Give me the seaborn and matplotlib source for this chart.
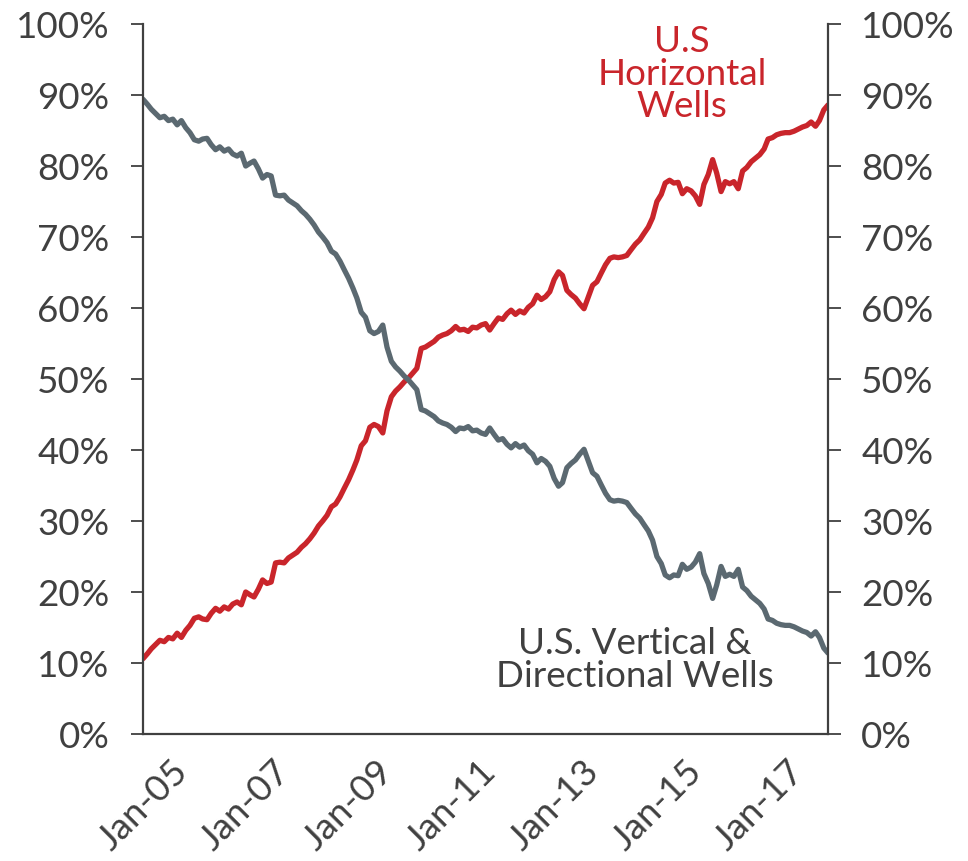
import matplotlib
matplotlib.use("Agg")
import matplotlib.pyplot as plt
import matplotlib.dates as mdates
from matplotlib.ticker import FuncFormatter, MultipleLocator
import numpy as np
import pandas as pd
import seaborn as sns

# Monthly readings, Jan 2005 .. May 2018 (percent of US rig count)
start_month = "2005-01-01"
n_months = 161

horizontal = [
    10.6, 11.3, 12.0, 12.6, 13.2, 13.0, 13.6, 13.4, 14.2, 13.6, 14.6, 15.3,
    16.3, 16.5, 16.2, 16.1, 17.0, 17.7, 17.3, 17.9, 17.6, 18.3, 18.6, 18.2,
    20.0, 19.6, 19.3, 20.4, 21.7, 21.2, 21.4, 24.1, 24.2, 24.1, 24.8, 25.2,
    25.6, 26.3, 26.8, 27.5, 28.3, 29.3, 30.0, 30.8, 32.0, 32.4, 33.4, 34.6,
    35.8, 37.2, 38.6, 40.6, 41.3, 43.2, 43.6, 43.3, 42.4, 45.5, 47.5, 48.3,
    48.9, 49.6, 50.1, 50.8, 51.5, 54.3, 54.5, 54.9, 55.3, 55.9, 56.2, 56.4,
    56.8, 57.4, 56.9, 57.0, 56.7, 57.3, 57.2, 57.6, 57.8, 56.9, 57.8, 58.6,
    58.4, 59.2, 59.7, 59.1, 59.6, 59.3, 60.1, 60.6, 61.8, 61.2, 61.6, 62.3,
    64.0, 65.1, 64.6, 62.5, 61.9, 61.4, 60.6, 59.9, 61.6, 63.2, 63.7, 64.9,
    66.1, 67.0, 67.2, 67.1, 67.2, 67.4, 68.2, 69.0, 69.6, 70.5, 71.4, 72.7,
    75.0, 76.0, 77.6, 78.0, 77.6, 77.7, 76.1, 76.8, 76.5, 75.8, 74.6, 77.4,
    78.8, 80.9, 79.0, 76.4, 77.8, 77.5, 77.8, 76.8, 79.3, 79.8, 80.6, 81.1,
    81.6, 82.4, 83.8, 84.0, 84.4, 84.6, 84.7, 84.7, 84.9, 85.2, 85.5, 85.7,
    86.2, 85.6, 86.4, 87.9, 88.6,
]

vertical = [
    89.4, 88.7, 88.0, 87.4, 86.8, 87.0, 86.4, 86.6, 85.8, 86.4, 85.4, 84.7,
    83.7, 83.5, 83.8, 83.9, 83.0, 82.3, 82.7, 82.1, 82.4, 81.7, 81.4, 81.8,
    80.0, 80.4, 80.7, 79.6, 78.3, 78.8, 78.6, 75.9, 75.8, 75.9, 75.2, 74.8,
    74.4, 73.7, 73.2, 72.5, 71.7, 70.7, 70.0, 69.2, 68.0, 67.6, 66.6, 65.4,
    64.2, 62.8, 61.4, 59.4, 58.7, 56.8, 56.4, 56.7, 57.6, 54.5, 52.5, 51.7,
    51.1, 50.4, 49.9, 49.2, 48.5, 45.7, 45.5, 45.1, 44.7, 44.1, 43.8, 43.6,
    43.2, 42.6, 43.1, 43.0, 43.3, 42.7, 42.8, 42.4, 42.2, 43.1, 42.2, 41.4,
    41.6, 40.8, 40.3, 40.9, 40.4, 40.7, 39.9, 39.4, 38.2, 38.8, 38.4, 37.7,
    36.0, 34.9, 35.4, 37.5, 38.1, 38.6, 39.4, 40.1, 38.4, 36.8, 36.3, 35.1,
    33.9, 33.0, 32.8, 32.9, 32.8, 32.6, 31.8, 31.0, 30.4, 29.5, 28.6, 27.3,
    25.0, 24.0, 22.4, 22.0, 22.4, 22.3, 23.9, 23.2, 23.5, 24.2, 25.4, 22.6,
    21.2, 19.1, 21.0, 23.6, 22.2, 22.5, 22.2, 23.2, 20.7, 20.2, 19.4, 18.9,
    18.4, 17.6, 16.2, 16.0, 15.6, 15.4, 15.3, 15.3, 15.1, 14.8, 14.5, 14.3,
    13.8, 14.4, 13.6, 12.1, 11.4,
]

series_names = ["U.S\nHorizontal\nWells", "U.S. Vertical &\nDirectional Wells"]
tick_years = [2005, 2007, 2009, 2011, 2013, 2015, 2017]

RED = "#C9252B"
GRAY = "#5B6971"
TEXT = "#404040"

dates = pd.date_range(start_month, periods=n_months, freq="MS")
df = pd.DataFrame({
    "date": np.concatenate([dates, dates]),
    "value": horizontal + vertical,
    "series": ["horizontal"] * n_months + ["vertical"] * n_months,
})

sns.set_style("white")
plt.rcParams["font.family"] = ["Lato", "DejaVu Sans"]

fig = plt.figure(figsize=(9.68, 8.61), dpi=100)
ax = fig.add_axes([0.1477, 0.1475, 0.8554 - 0.1477, 0.9721 - 0.1475])

sns.lineplot(data=df, x="date", y="value", hue="series",
             palette={"horizontal": RED, "vertical": GRAY},
             linewidth=3.8, legend=False, ax=ax)

ax.set_xlim(dates[0], dates[-1])
ax.set_ylim(0, 100)
ax.set_xlabel("")
ax.set_ylabel("")

ax.yaxis.set_major_locator(MultipleLocator(10))
ax.yaxis.set_major_formatter(FuncFormatter(lambda v, p: f"{v:.0f}%"))
ax.set_xticks([pd.Timestamp(f"{y}-01-01") for y in tick_years])
ax.xaxis.set_major_formatter(mdates.DateFormatter("%b-%y"))

for s in ["left", "right", "bottom"]:
    ax.spines[s].set_visible(True)
    ax.spines[s].set_color(TEXT)
    ax.spines[s].set_linewidth(1.6)
ax.spines["top"].set_visible(False)

ax.tick_params(axis="y", which="both", direction="out", length=9, width=1.3,
               color=TEXT, labelcolor=TEXT, labelsize=26.5, pad=15,
               left=True, right=True, labelleft=True, labelright=True)
ax.tick_params(axis="x", direction="out", length=10, width=1.3, color=TEXT,
               labelcolor=TEXT, labelsize=26.5, pad=5)
for lab in ax.get_xticklabels():
    lab.set_rotation(45)
    lab.set_ha("center")
    lab.set_va("top")

ax.text(0.787, 0.9296, series_names[0], transform=ax.transAxes, ha="center",
        va="center", color=RED, fontsize=26.5, linespacing=0.99)
ax.text(0.718, 0.104, series_names[1], transform=ax.transAxes, ha="center",
        va="center", color=TEXT, fontsize=26.5, linespacing=1.02)

fig.savefig("out.png", dpi=100, facecolor="white")
